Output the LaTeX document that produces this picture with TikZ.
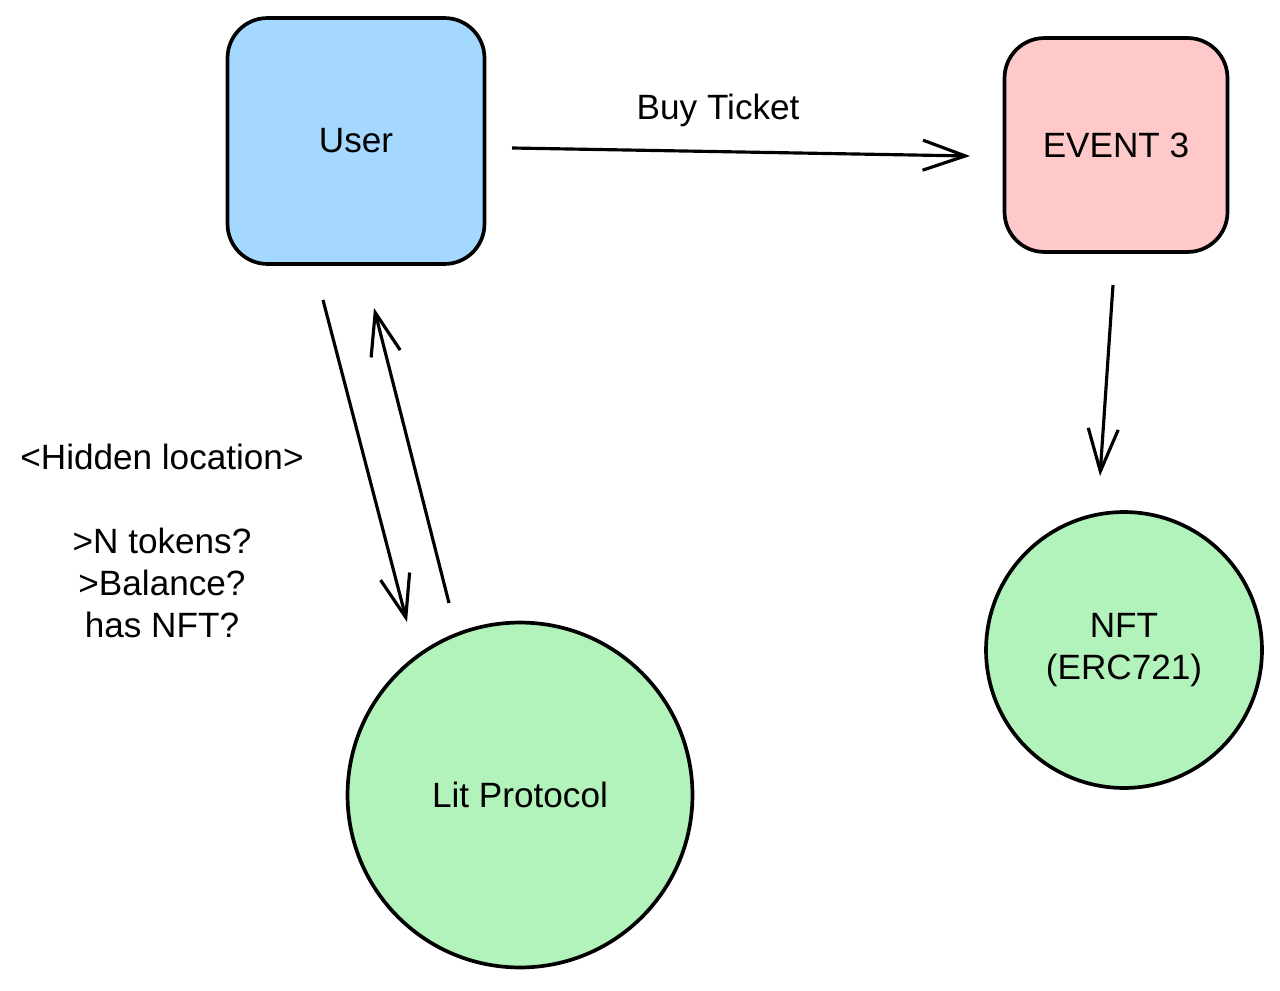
\documentclass[tikz,border=0pt]{standalone}
\usepackage{fontspec}
\setmainfont{Liberation Sans}
\usetikzlibrary{arrows.meta}

\begin{document}
\begin{tikzpicture}[
  x=0.02cm, y=-0.02cm,
  every node/.style = {font=\fontsize{20}{24}\selectfont, align=center},
  BoxStyle/.style = {draw, line width=2.1pt, rounded corners=0.8cm, inner sep=0pt},
  DiskStyle/.style = {draw, circle, line width=2.1pt, inner sep=0pt, fill=diskgreen},
  EdgeOpen/.style = {line width=1.8pt, -{Straight Barb[length=0.85cm, width=0.6cm, line width=1.8pt]}}
  ]
  \definecolor{userblue}{HTML}{A5D8FF}
  \definecolor{eventpink}{HTML}{FFC9C9}
  \definecolor{diskgreen}{HTML}{B2F2BB}

  \useasboundingbox (0,0) rectangle (1280,990);

  % boxes
  \node[BoxStyle, fill=userblue, minimum width=5.14cm, minimum height=4.92cm] (user) at (356,141) {User};
  \node[BoxStyle, fill=eventpink, minimum width=4.46cm, minimum height=4.28cm] (event) at (1116,145) {EVENT 3};

  % circles
  \node[DiskStyle, minimum size=5.52cm] (nft) at (1124,650) {NFT\\(ERC721)};
  \node[DiskStyle, minimum size=6.9cm] (lit) at (520,795) {Lit Protocol};

  % arrow ends
  \coordinate (buyA) at (512,148);
  \coordinate (buyB) at (970,156);
  \coordinate (mintA) at (1113,285);
  \coordinate (mintB) at (1100,476);
  \coordinate (askA) at (323,300);
  \coordinate (askB) at (407,622);
  \coordinate (ansA) at (449,603);
  \coordinate (ansB) at (374,308);

  \draw[EdgeOpen] (buyA) -- node[pos=0.45, above=0.35cm] (buylabel) {Buy Ticket} (buyB);
  \draw[EdgeOpen] (mintA) -- (mintB);
  \draw[EdgeOpen] (askA) -- (askB);
  \draw[EdgeOpen] (ansA) -- (ansB);

  \node (cond) at (162,541) {<Hidden location>\\[24pt] >N tokens?\\ >Balance?\\ has NFT?};

\end{tikzpicture}
\end{document}
